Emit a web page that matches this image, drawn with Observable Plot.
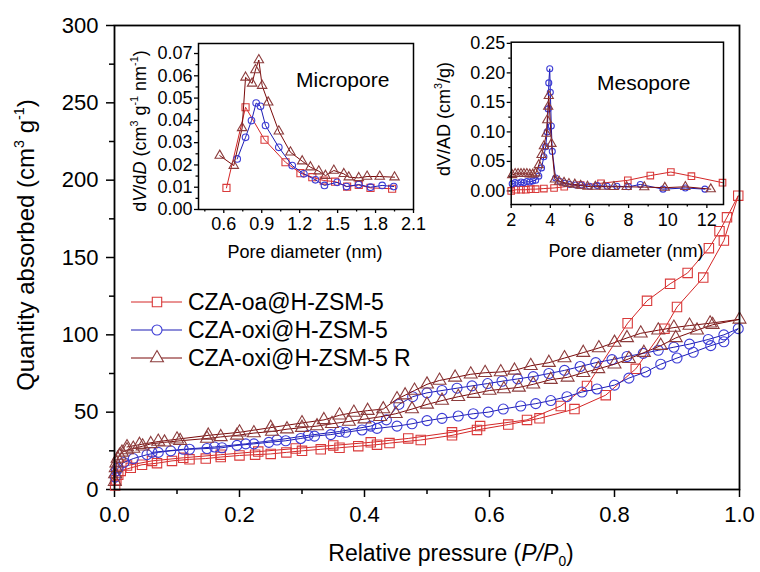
<!DOCTYPE html>
<html><head><meta charset="utf-8">
<script src="https://cdn.jsdelivr.net/npm/d3@7"></script>
<script src="https://cdn.jsdelivr.net/npm/@observablehq/plot@0.6"></script>
<style>
body{margin:0;background:#fff;}
#wrap{position:relative;width:760px;height:572px;overflow:hidden;}
#wrap svg{position:absolute;}
</style></head><body><div id="wrap"></div>
<script>
const FONT = '"Liberation Sans", Arial, Helvetica, sans-serif';

// ---- series meta ----
const seriesNames = ["CZA-oa@H-ZSM-5", "CZA-oxi@H-ZSM-5", "CZA-oxi@H-ZSM-5 R"];
const lineColors = ["#d42626", "#1c1cb4", "#7a0a0a"];
const markColors = ["#d93a3a", "#3c3cd6", "#8c3c3c"];
const symbols = ["square", "circle", "triangle"];

// ---- main isotherm: [P/P0, quantity] ----
const oaAds = [[0.001,2.6],[0.003,6],[0.006,9.5],[0.01,12],[0.026,14],[0.044,16],[0.068,17],[0.092,18.5],[0.12,19.5],[0.146,20],[0.17,21],[0.2,22],[0.225,22.5],[0.25,23],[0.275,24],[0.3,25],[0.33,26],[0.36,27],[0.39,28],[0.42,29],[0.44,30],[0.49,32],[0.54,35],[0.58,38.5],[0.63,42],[0.68,46],[0.736,52],[0.786,61],[0.834,78],[0.88,104],[0.9,118],[0.942,137],[0.975,161],[0.998,190]];
const oaDes = [[0.98,176],[0.968,167],[0.951,156],[0.917,140],[0.889,133],[0.852,122],[0.821,107.5],[0.756,67],[0.714,54],[0.66,45],[0.585,41],[0.54,37],[0.47,33],[0.41,30.5],[0.35,28.5],[0.29,26.5],[0.23,24.5],[0.17,22.5],[0.11,20.5],[0.06,18.5],[0.02,15.5]];
const oxiAds = [[0.001,8],[0.003,12],[0.006,14],[0.015,17.5],[0.03,20],[0.052,22.5],[0.07,24],[0.09,25],[0.12,26],[0.148,26.5],[0.172,27],[0.196,28.5],[0.223,29.5],[0.247,30.5],[0.274,31.5],[0.298,33],[0.32,34.5],[0.346,35.5],[0.37,37],[0.396,38.5],[0.42,39.5],[0.452,41],[0.476,42.5],[0.5,44.5],[0.524,46],[0.55,47.5],[0.574,49],[0.598,50],[0.622,52],[0.65,54],[0.674,55.5],[0.698,57.5],[0.724,60],[0.748,63],[0.772,65],[0.8,67.5],[0.823,72],[0.85,76],[0.874,81],[0.9,85],[0.926,88.7],[0.954,93],[0.975,95.5],[0.998,104]];
const oxiDes = [[0.975,100],[0.95,97],[0.92,94],[0.895,92],[0.87,90],[0.846,88],[0.82,86],[0.796,84],[0.77,82],[0.745,79.5],[0.72,77],[0.695,75],[0.67,73],[0.645,71.5],[0.62,70],[0.597,68.5],[0.572,67],[0.548,65.5],[0.524,64],[0.5,62.5],[0.477,60],[0.455,55],[0.435,45],[0.41,41],[0.36,37.5],[0.31,35],[0.26,32],[0.21,29.5],[0.16,27.5],[0.11,26],[0.06,24]];
const rAds = [[0.0005,5],[0.001,10],[0.002,14],[0.003,17],[0.005,20],[0.008,22],[0.012,24],[0.02,25.5],[0.03,26.5],[0.045,28],[0.058,29.5],[0.08,30.5],[0.105,31.5],[0.148,33],[0.17,34],[0.196,35],[0.223,36.5],[0.252,37.5],[0.276,39],[0.3,40],[0.324,41],[0.348,42.5],[0.375,44],[0.4,45.5],[0.425,47],[0.45,49],[0.476,52],[0.5,55],[0.524,57.5],[0.55,60],[0.575,62],[0.6,64],[0.623,65],[0.647,66],[0.67,68],[0.698,71],[0.725,72.5],[0.75,75.5],[0.774,78],[0.8,81],[0.823,84.5],[0.847,88.5],[0.874,93],[0.898,98],[0.932,103],[0.957,106.5],[1.0,110]];
const rDes = [[0.953,107.5],[0.92,106],[0.895,104.7],[0.87,103],[0.842,101],[0.82,98],[0.8,95],[0.775,91.5],[0.75,88.5],[0.72,85],[0.695,82],[0.666,80],[0.64,77],[0.618,76],[0.593,75.5],[0.57,74.5],[0.545,72.5],[0.52,70.5],[0.5,68],[0.48,64],[0.465,61],[0.452,58.5],[0.43,52],[0.405,51],[0.383,49.8],[0.36,48],[0.335,45],[0.3,43],[0.25,40],[0.2,37],[0.15,35],[0.1,32.5],[0.07,31],[0.04,29],[0.02,27.5]];

// ---- micropore inset: [pore diameter nm, dV/dD] ----
const microOa = [[0.621,0.0097],[0.772,0.0459],[0.922,0.0313],[1.088,0.0212],[1.206,0.0163],[1.30,0.0145],[1.39,0.013],[1.48,0.0125],[1.575,0.0103],[1.667,0.011],[1.76,0.0097],[1.931,0.0093]];
const microOxi = [[0.706,0.0227],[0.772,0.0324],[0.819,0.0399],[0.856,0.0478],[0.89,0.0463],[0.93,0.0377],[1.035,0.0279],[1.141,0.0197],[1.233,0.016],[1.325,0.0133],[1.396,0.0108],[1.496,0.0122],[1.57,0.0103],[1.667,0.0112],[1.76,0.01],[1.852,0.0108],[1.944,0.0103]];
const microR = [[0.568,0.0242],[0.679,0.0197],[0.745,0.0366],[0.772,0.0593],[0.824,0.0566],[0.85,0.0626],[0.877,0.0671],[0.903,0.0556],[0.951,0.0481],[1.035,0.0351],[1.127,0.0257],[1.22,0.0217],[1.285,0.019],[1.351,0.0172],[1.404,0.0152],[1.47,0.0175],[1.549,0.016],[1.588,0.0145],[1.667,0.0142],[1.733,0.0148],[1.833,0.0148],[1.95,0.0145]];

// ---- mesopore inset: [pore diameter nm, dV/AD] ----
const mesoOa = [[2.0,0.0],[2.25,0.002],[2.5,0.002],[2.75,0.002],[3.0,0.003],[3.25,0.003],[3.67,0.004],[4.19,0.005],[4.71,0.007],[5.55,0.01],[6.59,0.013],[7.96,0.018],[9.11,0.026],[10.16,0.032],[11.21,0.025],[12.8,0.014]];
const mesoOxi = [[2.05,0.012],[2.2,0.014],[2.35,0.013],[2.5,0.015],[2.65,0.014],[2.8,0.016],[2.95,0.015],[3.1,0.017],[3.25,0.018],[3.41,0.025],[3.55,0.039],[3.67,0.058],[3.76,0.075],[3.84,0.1],[3.89,0.139],[3.92,0.183],[3.97,0.207],[4.0,0.167],[4.05,0.11],[4.1,0.067],[4.27,0.022],[4.5,0.016],[4.75,0.013],[5.0,0.011],[5.3,0.01],[5.6,0.01],[6.0,0.008],[6.4,0.009],[6.9,0.008],[7.4,0.008],[8.0,0.007],[8.6,0.011],[9.76,0.003],[10.9,0.005],[11.9,0.003]];
const mesoR = [[2.05,0.027],[2.2,0.029],[2.35,0.029],[2.5,0.029],[2.65,0.029],[2.8,0.029],[2.95,0.028],[3.1,0.028],[3.25,0.03],[3.41,0.044],[3.55,0.061],[3.67,0.076],[3.8,0.097],[3.84,0.12],[3.89,0.143],[3.92,0.161],[4.06,0.08],[4.23,0.0195],[4.45,0.016],[4.7,0.014],[4.95,0.012],[5.25,0.011],[5.55,0.009],[5.9,0.0075],[6.3,0.0072],[6.75,0.0072],[7.25,0.007],[7.9,0.007],[8.8,0.0065],[9.85,0.0055],[10.9,0.007],[12.2,0.003]];

// ---- ticks ----
const mainXTicks = [0, 0.2, 0.4, 0.6, 0.8, 1.0];
const mainXMinor = [0.1, 0.3, 0.5, 0.7, 0.9];
const mainYTicks = [0, 50, 100, 150, 200, 250, 300];
const mainYMinor = [25, 75, 125, 175, 225, 275];
const microXTicks = [0.6, 0.9, 1.2, 1.5, 1.8, 2.1];
const microXMinor = [0.45, 0.75, 1.05, 1.35, 1.65, 1.95];
const microYTicks = [0, 0.01, 0.02, 0.03, 0.04, 0.05, 0.06, 0.07];
const microYMinor = [0.005, 0.015, 0.025, 0.035, 0.045, 0.055, 0.065];
const mesoXTicks = [2, 4, 6, 8, 10, 12];
const mesoXMinor = [3, 5, 7, 9, 11];
const mesoYTicks = [0, 0.05, 0.1, 0.15, 0.2, 0.25];
const mesoYMinor = [0.025, 0.075, 0.125, 0.175, 0.225];

const mainSeries = [oaAds.concat(oaDes), oxiAds.concat(oxiDes), rAds.concat(rDes)];
const microSeries = [microOa, microOxi, microR];
const mesoSeries = [mesoOa, mesoOxi, mesoR];

function seriesMarks(list, radii, sw) {
  const m = [];
  list.forEach((pts, i) => {
    m.push(Plot.line(pts, {x: d => d[0], y: d => d[1], stroke: lineColors[i], strokeWidth: sw}));
    m.push(Plot.dot(pts, {x: d => d[0], y: d => d[1], symbol: symbols[i], r: radii[i], stroke: markColors[i], fill: "none", strokeWidth: 1.1}));
  });
  return m;
}

function axes(xt, xm, yt, ym, fx, fy, fs, big, small, padX, padY, sw) {
  return [
    Plot.axisX({ticks: xt, tickFormat: fx, tickSize: big, tickPadding: padX, label: null, fontSize: fs, strokeWidth: sw}),
    Plot.axisX({ticks: xm, tickFormat: () => "", tickSize: small, label: null, strokeWidth: sw}),
    Plot.axisY({ticks: yt, tickFormat: fy, tickSize: big, tickPadding: padY, label: null, fontSize: fs, strokeWidth: sw}),
    Plot.axisY({ticks: ym, tickFormat: () => "", tickSize: small, label: null, strokeWidth: sw})
  ];
}

const wrap = document.getElementById("wrap");

const main = Plot.plot({
  width: 760, height: 572,
  marginLeft: 114, marginRight: 21, marginTop: 25, marginBottom: 83,
  x: {domain: [0, 1]},
  y: {domain: [0, 300]},
  style: {fontFamily: FONT, fontSize: "22px", color: "#000", background: "transparent"},
  marks: [
    ...axes(mainXTicks, mainXMinor, mainYTicks, mainYMinor, d3.format(".1f"), d3.format("d"), 22, 8, 5, 9, 8, 1.5),
    ...seriesMarks(mainSeries, [5.3, 5, 4.8], 1),
    Plot.frame({stroke: "#000", strokeWidth: 1.8})
  ]
});
main.style.left = "0px"; main.style.top = "0px";
wrap.appendChild(main);

const micro = Plot.plot({
  width: 330, height: 240,
  marginLeft: 98, marginRight: 17, marginTop: 13, marginBottom: 61,
  x: {domain: [0.4, 2.1]},
  y: {domain: [0, 0.0745]},
  style: {fontFamily: FONT, fontSize: "18px", color: "#000", background: "transparent"},
  marks: [
    ...axes(microXTicks, microXMinor, microYTicks, microYMinor, d3.format(".1f"), d3.format(".2f"), 18, 4, 2.5, 4, 2, 1.3),
    ...seriesMarks(microSeries, [4, 3.3, 3.5], 1),
    Plot.frame({stroke: "#000", strokeWidth: 1.5})
  ]
});
micro.style.left = "100px"; micro.style.top = "30px";
wrap.appendChild(micro);

const meso = Plot.plot({
  width: 300, height: 240,
  marginLeft: 55.7, marginRight: 32, marginTop: 13.7, marginBottom: 64,
  x: {domain: [2, 12.85]},
  y: {domain: [-0.023, 0.252]},
  style: {fontFamily: FONT, fontSize: "18px", color: "#000", background: "transparent"},
  marks: [
    ...axes(mesoXTicks, mesoXMinor, mesoYTicks, mesoYMinor, d3.format("d"), d3.format(".2f"), 18, 4, 2.5, 5, 2, 1.3),
    ...seriesMarks(mesoSeries, [3.7, 3, 3.4], 1),
    Plot.frame({stroke: "#000", strokeWidth: 1.5})
  ]
});
meso.style.left = "455px"; meso.style.top = "28px";
wrap.appendChild(meso);

// ---- overlay: titles, annotations, legend ----
const ov = d3.create("svg").attr("width", 760).attr("height", 572)
  .style("left", "0px").style("top", "0px").style("pointer-events", "none")
  .attr("font-family", FONT);

function richText(parts, {x, y, size, rotate = 0, anchor = "start"}) {
  const t = ov.append("text")
    .attr("transform", `translate(${x},${y}) rotate(${rotate})`)
    .attr("text-anchor", anchor).attr("font-size", size).attr("fill", "#000");
  let off = 0;
  for (const p of parts) {
    const shift = p.sup ? -0.42 * size : p.sub ? 0.2 * size : 0;
    const ts = t.append("tspan").attr("dy", shift - off).text(p.t);
    off = shift;
    if (p.sup || p.sub) ts.attr("font-size", size * 0.6);
    if (p.it) ts.attr("font-style", "italic");
  }
}

richText([{t: "Quantity absorbed (cm"}, {t: "3", sup: true}, {t: " g"}, {t: "-1", sup: true}, {t: ")"}],
  {x: 34, y: 245, size: 24, rotate: -90, anchor: "middle"});
richText([{t: "Relative pressure ("}, {t: "P", it: true}, {t: "/", it: true}, {t: "P", it: true}, {t: "0", sub: true}, {t: ")"}],
  {x: 451, y: 561, size: 23, anchor: "middle"});

richText([{t: "d"}, {t: "V", it: true}, {t: "/d"}, {t: "D", it: true}, {t: " (cm"}, {t: "3", sup: true}, {t: " g"}, {t: "-1", sup: true}, {t: " nm"}, {t: "-1", sup: true}, {t: ")"}],
  {x: 146, y: 131, size: 18, rotate: -90, anchor: "middle"});
richText([{t: "Pore diameter (nm)"}], {x: 305, y: 258, size: 18, anchor: "middle"});
richText([{t: "Micropore"}], {x: 296, y: 87, size: 21});

richText([{t: "dV/AD (cm"}, {t: "3", sup: true}, {t: "/g)"}],
  {x: 450, y: 119, size: 18, rotate: -90, anchor: "middle"});
richText([{t: "Pore diameter (nm)"}], {x: 626, y: 257, size: 18, anchor: "middle"});
richText([{t: "Mesopore"}], {x: 597, y: 90, size: 21});

const legendSizes = [5.3, 5, 4.8];
const symTypes = [d3.symbolSquare, d3.symbolCircle, d3.symbolTriangle];
seriesNames.forEach((name, i) => {
  const cy = 302 + 28 * i;
  ov.append("line").attr("x1", 131).attr("x2", 182).attr("y1", cy).attr("y2", cy)
    .attr("stroke", lineColors[i]).attr("stroke-width", 1);
  ov.append("path").attr("d", d3.symbol(symTypes[i], Math.PI * legendSizes[i] ** 2)())
    .attr("transform", `translate(157,${cy})`)
    .attr("fill", "#fff").attr("stroke", markColors[i]).attr("stroke-width", 1.1);
  ov.append("text").attr("x", 188).attr("y", cy + 8).attr("font-size", 23).attr("fill", "#000").text(name);
});

wrap.appendChild(ov.node());
</script></body></html>
